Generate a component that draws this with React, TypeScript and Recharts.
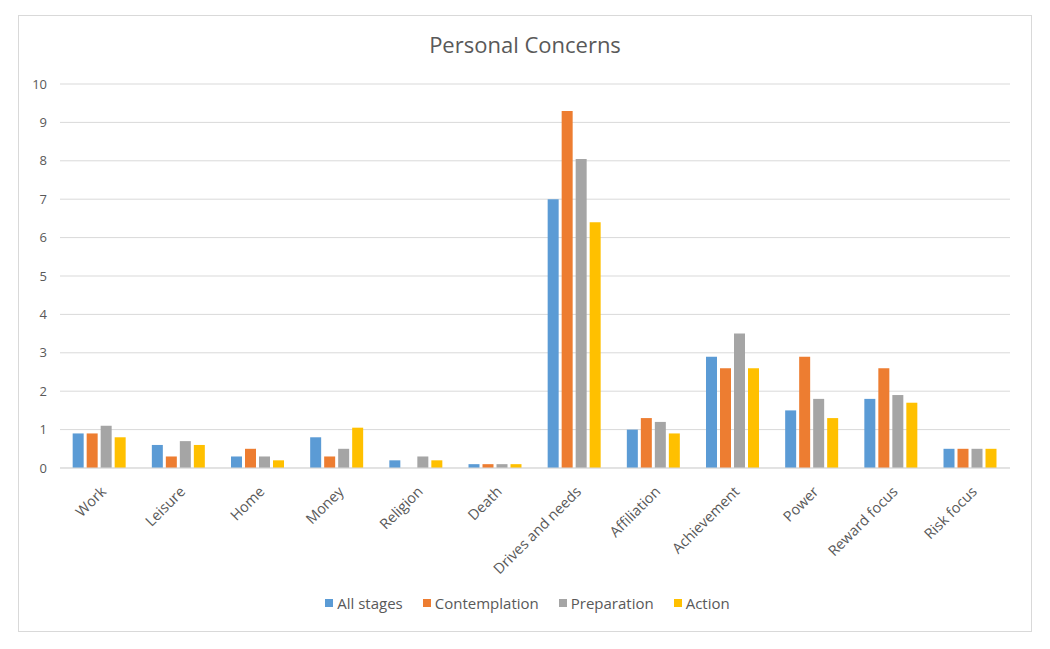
import React from "react";
import { BarChart, Bar, XAxis, YAxis, CartesianGrid, Legend } from "recharts";

const categories = [
  "Work", "Leisure", "Home", "Money", "Religion", "Death",
  "Drives and needs", "Affiliation", "Achievement", "Power", "Reward focus", "Risk focus",
];
const allStages = [0.9, 0.6, 0.3, 0.8, 0.2, 0.1, 7.0, 1.0, 2.9, 1.5, 1.8, 0.5];
const contemplation = [0.9, 0.3, 0.5, 0.3, 0, 0.1, 9.3, 1.3, 2.6, 2.9, 2.6, 0.5];
const preparation = [1.1, 0.7, 0.3, 0.5, 0.3, 0.1, 8.05, 1.2, 3.5, 1.8, 1.9, 0.5];
const action = [0.8, 0.6, 0.2, 1.05, 0.2, 0.1, 6.4, 0.9, 2.6, 1.3, 1.7, 0.5];
const yTicks = [0, 1, 2, 3, 4, 5, 6, 7, 8, 9, 10];

const series = [
  { key: "allStages", name: "All stages", color: "#5B9BD5", values: allStages },
  { key: "contemplation", name: "Contemplation", color: "#ED7D31", values: contemplation },
  { key: "preparation", name: "Preparation", color: "#A5A5A5", values: preparation },
  { key: "action", name: "Action", color: "#FFC000", values: action },
];

const data = categories.map((c, i) => {
  const row: Record<string, string | number> = { name: c };
  series.forEach((s) => (row[s.key] = s.values[i]));
  return row;
});

const FONT = "'Open Sans', Lato, sans-serif";
const TEXT = "#595959";

const XTick = (props: any) => {
  const { x, y, payload } = props;
  const tx = x - 1;
  const ty = y + 8;
  return (
    <text
      x={tx}
      y={ty}
      transform={`rotate(-45 ${tx} ${ty})`}
      textAnchor="end"
      dominantBaseline="hanging"
      fontSize={14.5}
      fontFamily={FONT}
      fill={TEXT}
    >
      {payload.value}
    </text>
  );
};

const LegendContent = () => (
  <div
    style={{
      display: "flex",
      justifyContent: "center",
      alignItems: "center",
      height: 20,
      paddingLeft: 26,
      fontFamily: FONT,
      fontSize: 15,
      color: TEXT,
      gap: 20,
    }}
  >
    {series.map((s) => (
      <div key={s.key} style={{ display: "flex", alignItems: "center" }}>
        <span style={{ display: "inline-block", width: 8, height: 8, background: s.color, marginRight: 4 }} />
        <span>{s.name}</span>
      </div>
    ))}
  </div>
);

export default function App() {
  return (
    <div style={{ position: "relative", width: 1034, height: 640 }}>
      <div
        style={{
          position: "absolute",
          left: 10,
          top: 7,
          width: 1012,
          height: 615,
          border: "1px solid #D9D9D9",
          background: "#fff",
        }}
      >
        <div
          style={{
            position: "absolute",
            left: 0,
            top: 13,
            width: "100%",
            textAlign: "center",
            fontFamily: FONT,
            fontSize: 22,
            color: TEXT,
          }}
        >
          Personal Concerns
        </div>
        <BarChart
          width={1012}
          height={615}
          data={data}
          margin={{ top: 68, right: 21, left: 0, bottom: 18 }}
          barCategoryGap="16%"
          barGap={3}
        >
          <CartesianGrid vertical={false} stroke="#D9D9D9" strokeWidth={1} />
          <XAxis
            dataKey="name"
            interval={0}
            tick={<XTick />}
            tickLine={false}
            axisLine={{ stroke: "#D9D9D9" }}
            height={125}
          />
          <YAxis
            domain={[0, 10]}
            ticks={yTicks}
            width={41}
            tickLine={false}
            axisLine={false}
            tickMargin={7}
            tick={{ fontSize: 13, fontFamily: FONT, fill: TEXT }}
          />
          <Legend verticalAlign="bottom" content={<LegendContent />} />
          {series.map((s) => (
            <Bar key={s.key} dataKey={s.key} name={s.name} fill={s.color} isAnimationActive={false} />
          ))}
        </BarChart>
      </div>
    </div>
  );
}
